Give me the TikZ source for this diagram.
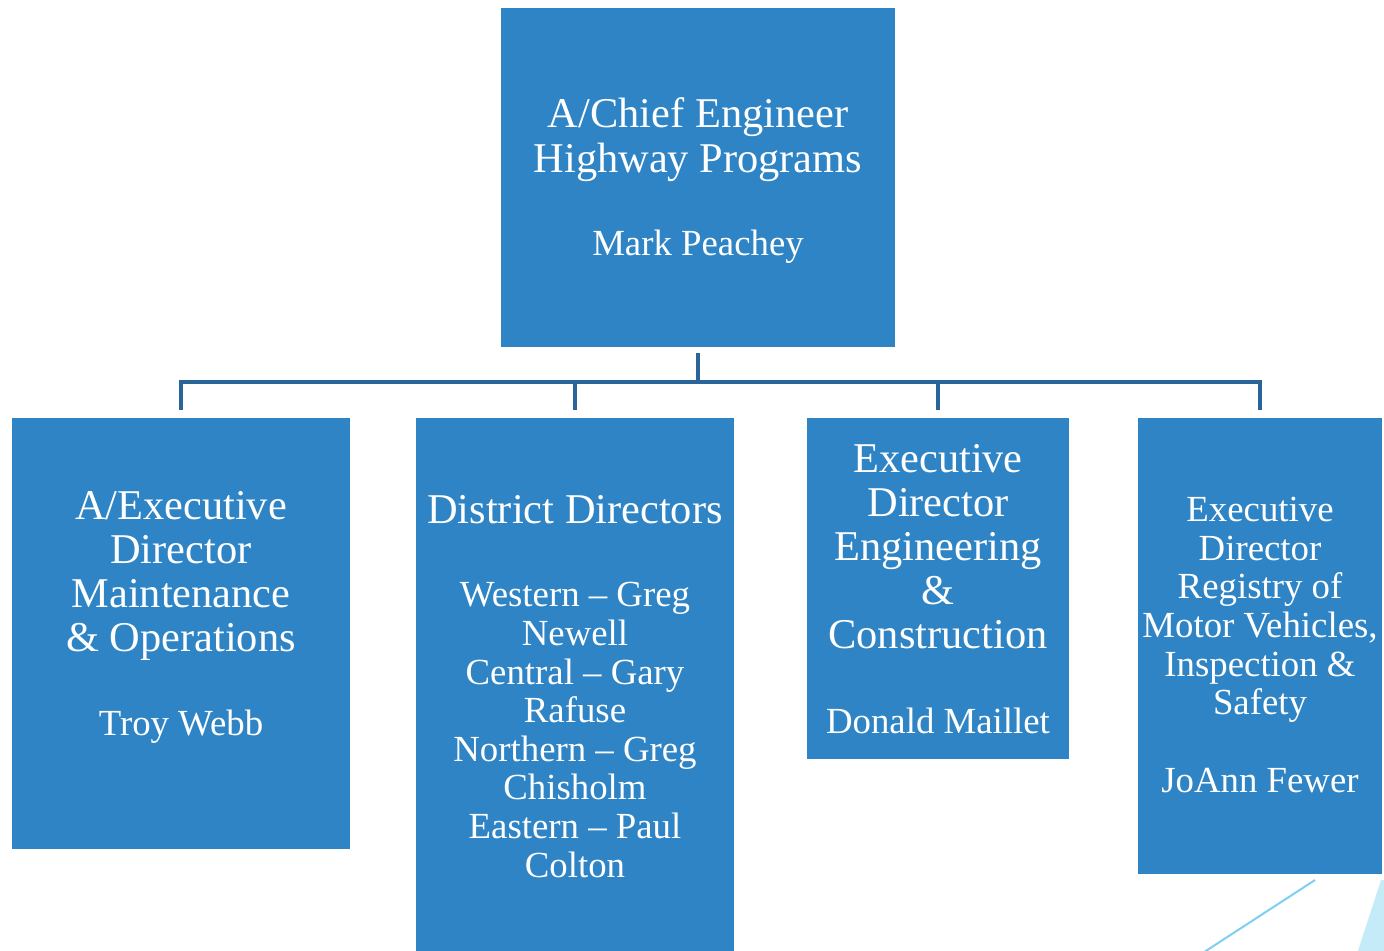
\documentclass[tikz,border=0pt]{standalone}
\usepackage{fontspec}
\setmainfont{Liberation Serif}
\definecolor{boxblue}{HTML}{2E84C4}
\definecolor{linkblue}{HTML}{2A6599}
\definecolor{paleline}{HTML}{7FD0F0}
\definecolor{palefill}{HTML}{C6EBF8}
\begin{document}
\begin{tikzpicture}[x=0.5pt,y=-0.5pt,
  orgbox/.style={fill=boxblue, draw=none, inner sep=0pt},
  bigtext/.style={text=white, align=center, inner sep=0pt,
    font=\fontsize{21.2}{22}\selectfont},
  smalltext/.style={text=white, align=center, inner sep=0pt,
    font=\fontsize{18.4}{19.3}\selectfont},
  conn/.style={draw=linkblue, line width=2pt}]
\useasboundingbox (0,0) rectangle (1384,951);
\clip (0,0) rectangle (1384,951);

% light accents in the lower right corner
\fill[palefill] (1381,880) -- (1400,880) -- (1400,960) -- (1355,960) -- cycle;
\draw[paleline, line width=1pt] (1315,880) -- (1195,958);

% boxes
\node[orgbox, minimum width=197pt, minimum height=169.5pt] (top) at (698,177.5) {};
\node[orgbox, minimum width=169pt, minimum height=215.5pt] (b1) at (181,633.5) {};
\node[orgbox, minimum width=159pt, minimum height=272pt] (b2) at (575,690) {};
\node[orgbox, minimum width=131pt, minimum height=170.5pt] (b3) at (938,588.5) {};
\node[orgbox, minimum width=122pt, minimum height=228pt] (b4) at (1260,646) {};

% box texts
\node[bigtext, font=\fontsize{21.2}{22.5}\selectfont] (t0) at (698,140) {A/Chief Engineer\\Highway Programs};
\node[smalltext] (n0) at (698,247) {Mark Peachey};

\node[bigtext] (t1) at (181,576) {A/Executive\\Director\\Maintenance\\\& Operations};
\node[smalltext] (n1) at (181,727) {Troy Webb};

\node[bigtext] (t2) at (575,510) {District Directors};
\node[smalltext] (n2) at (575,730) {Western – Greg\\Newell\\Central – Gary\\Rafuse\\Northern – Greg\\Chisholm\\Eastern – Paul\\Colton};

\node[bigtext] (t3) at (938,547) {Executive\\Director\\Engineering\\\&\\Construction};
\node[smalltext] (n3) at (938,721) {Donald Maillet};

\node[smalltext] (t4) at (1260,610) {Executive\\Director\\Registry of\\Motor Vehicles,\\Inspection \&\\Safety};
\node[smalltext] (n4) at (1260,781) {JoAnn Fewer};

% connectors
\coordinate (bus) at (698,382);
\draw[conn] ([yshift=-3pt]top.south) -- (top.south |- bus);
\draw[conn] ([yshift=4pt]b1.north) -- (b1.north |- bus) -- (b4.north |- bus) -- ([yshift=4pt]b4.north);
\draw[conn] ([yshift=4pt]b2.north) -- (b2.north |- bus);
\draw[conn] ([yshift=4pt]b3.north) -- (b3.north |- bus);
\end{tikzpicture}
\end{document}
